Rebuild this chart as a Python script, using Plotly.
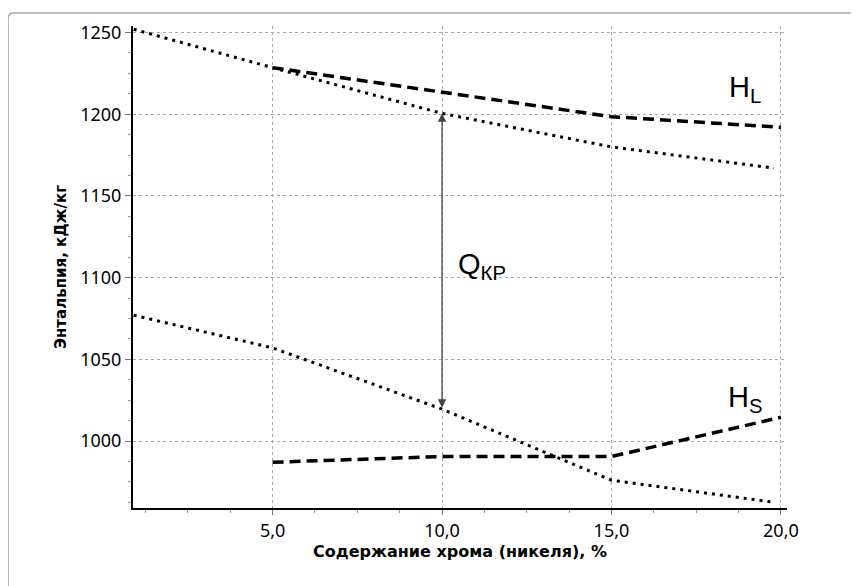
import plotly.graph_objects as go

# data
x_upper_dot = [0.9, 5, 10, 15, 19.8]
y_upper_dot = [1252, 1228.5, 1200.5, 1180, 1167]
x_hl = [5, 10, 15, 20]
y_hl = [1228.5, 1213.5, 1198.5, 1192]
x_lower_dot = [0.9, 5, 10, 15, 19.8]
y_lower_dot = [1077, 1057, 1019.5, 976, 962.5]
x_hs = [5, 10, 15, 20]
y_hs = [987, 990.5, 990.5, 1014.5]
x_ticks = [5, 10, 15, 20]
x_ticktext = ["5,0", "10,0", "15,0", "20,0"]
y_ticks = [1000, 1050, 1100, 1150, 1200, 1250]
q_x = 10
q_top = 1200.5
q_bottom = 1019.5

fig = go.Figure()
dot_style = dict(color="black", width=3, dash="3px,5px")
dash_style = dict(color="black", width=3.5, dash="11px,6px")
fig.add_trace(go.Scatter(x=x_upper_dot, y=y_upper_dot, mode="lines", line=dot_style, showlegend=False))
fig.add_trace(go.Scatter(x=x_lower_dot, y=y_lower_dot, mode="lines", line=dot_style, showlegend=False))
fig.add_trace(go.Scatter(x=x_hl, y=y_hl, mode="lines", line=dash_style, showlegend=False))
fig.add_trace(go.Scatter(x=x_hs, y=y_hs, mode="lines", line=dash_style, showlegend=False))

# double arrow Q_KP
fig.add_annotation(x=q_x, y=q_top, ax=q_x, ay=q_bottom, xref="x", yref="y", axref="x", ayref="y",
                   text="", showarrow=True, arrowhead=2, startarrowhead=2, arrowside="end+start",
                   arrowsize=1.3, startarrowsize=1.3, arrowwidth=1.3, arrowcolor="#444444")

label_font = dict(family="Liberation Sans, Arial", size=29, color="black")
fig.add_annotation(x=11.18, y=1107, xref="x", yref="y", showarrow=False,
                   text="Q<sub>КР</sub>", font=label_font)
fig.add_annotation(x=18.95, y=1215.5, xref="x", yref="y", showarrow=False,
                   text="H<sub>L</sub>", font=label_font)
fig.add_annotation(x=18.93, y=1026, xref="x", yref="y", showarrow=False,
                   text="H<sub>S</sub>", font=label_font)

# frame (rounded top-left corner)
x0, y1, x1, y0 = -0.1911, 1.0268, 1.3, -0.3
rx, ry = 0.009, 0.012
fig.add_shape(type="path", xref="paper", yref="paper",
              path=f"M {x0},{y0} L {x0},{y1-ry} Q {x0},{y1} {x0+rx},{y1} L {x1},{y1}",
              line=dict(color="#a8a898", width=1.5), layer="below")

tick_font = dict(family="Noto Sans", size=18, color="black")
xtitle_font = dict(family="DejaVu Sans", size=16, color="black")
ytitle_font = dict(family="DejaVu Sans", size=15, color="black")
fig.update_layout(
    width=859, height=586,
    margin=dict(l=125, r=80, t=15, b=86),
    paper_bgcolor="white", plot_bgcolor="white",
    xaxis=dict(range=[0.88, 20.18], tickvals=x_ticks, ticktext=x_ticktext, tickfont=tick_font,
               showline=True, linecolor="black", linewidth=2, ticks="outside", ticklen=5,
               tickcolor="#777", showgrid=True, gridcolor="#aaaaaa", griddash="3px,3px", gridwidth=1,
               zeroline=False,
               minor=dict(dtick=1.25, tick0=0, ticks="outside", ticklen=3, tickcolor="#999", showgrid=False),
               title=dict(text="<b>Содержание хрома (никеля), %</b>", font=xtitle_font, standoff=4)),
    yaxis=dict(range=[959, 1254], tickvals=y_ticks, tickfont=tick_font,
               showline=True, linecolor="black", linewidth=2, ticks="outside", ticklen=6,
               tickcolor="#777", showgrid=True, gridcolor="#aaaaaa", griddash="3px,3px", gridwidth=1,
               zeroline=False,
               minor=dict(dtick=12.5, tick0=0, ticks="outside", ticklen=3, tickcolor="#999", showgrid=False),
               title=dict(text="<b>Энтальпия, кДж/кг</b>", font=ytitle_font, standoff=10)),
)

fig.write_html("out.html")
